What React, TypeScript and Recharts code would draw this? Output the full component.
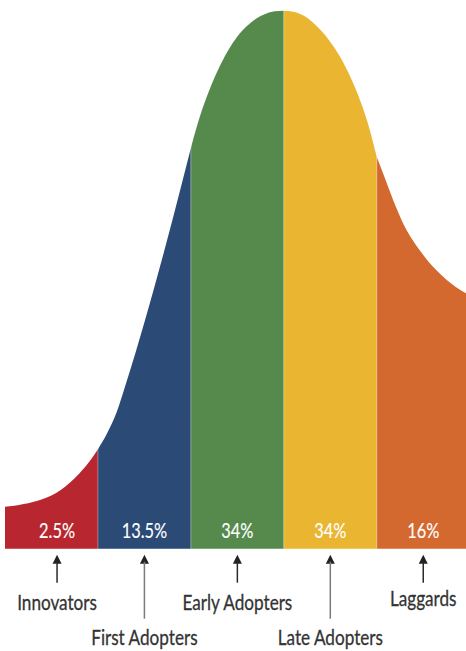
import { AreaChart, Area, XAxis, YAxis, ReferenceLine } from "recharts";

// position along the curve, in standard deviations from the mean
const curveX = [
  -3, -2.9, -2.8, -2.7, -2.6, -2.5, -2.4, -2.3, -2.2, -2.1,
  -2, -1.9, -1.8, -1.7, -1.6, -1.5, -1.4, -1.3, -1.2, -1.1,
  -1, -0.9, -0.8, -0.7, -0.6, -0.5, -0.4, -0.3, -0.2, -0.1,
  0, 0.1, 0.2, 0.3, 0.4, 0.5, 0.6, 0.7, 0.8, 0.9,
  1, 1.1, 1.2, 1.3, 1.4, 1.5, 1.6, 1.7, 1.8, 1.9, 1.96,
];
// curve height, % of the peak
const curveY = [
  7.8, 8.0, 8.3, 8.7, 9.2, 9.9, 10.9, 12.3, 14.0, 16.0,
  18.5, 21.5, 25.3, 30.6, 36.2, 42.1, 48.2, 54.5, 61.0, 67.7,
  74.5, 80.5, 85.3, 89.3, 92.6, 95.2, 97.1, 98.5, 99.4, 99.9,
  100, 99.8, 99.2, 98.0, 96.3, 94.2, 91.6, 88.3, 84.3, 79.3,
  72.8, 68.3, 63.8, 59.9, 57.0, 54.6, 52.5, 50.8, 49.3, 48.1, 47.5,
];

const segmentEdges = [-3, -2, -1, 0, 1, 1.96];
const segmentNames = ["Innovators", "First Adopters", "Early Adopters", "Late Adopters", "Laggards"];
const segmentShares = ["2.5%", "13.5%", "34%", "34%", "16%"];
const labelX = [-2.44, -1.5, -0.5, 0.5, 1.5];
const colors = ["#b8272f", "#2b4b76", "#568a4d", "#eab531", "#d4692f"];

const chartData = curveX.map((x, i) => {
  const row: Record<string, number | null> = { x };
  segmentNames.forEach((_, s) => {
    const inside = x >= segmentEdges[s] && x <= segmentEdges[s + 1];
    row["s" + s] = inside ? curveY[i] : null;
  });
  return row;
});

const font = "Lato, 'Open Sans', sans-serif";

function SegmentTick(props: any) {
  const { x, y, payload } = props;
  const i = labelX.indexOf(payload.value);
  if (i < 0) return null;
  const low = i % 2 === 1;
  const lineEnd = low ? 70 : 34;
  const textY = low ? 96.5 : i === 4 ? 57.5 : 61.5;
  return (
    <g>
      <g transform={`translate(${x},${y - 10.5}) scale(0.78,1)`}>
        <text x={0} y={0} textAnchor="middle" fill="#ffffff" stroke="#ffffff" strokeWidth={0.15} fontSize={21} fontFamily={font}>
          {segmentShares[i]}
        </text>
      </g>
      <polygon points={`${x},${y + 6} ${x - 4.5},${y + 15} ${x + 4.5},${y + 15}`} fill="#222222" />
      <line x1={x} x2={x} y1={y + 13} y2={y + lineEnd} stroke={low ? "#7a7a7a" : "#2a2a2a"} strokeWidth={1.5} />
      <g transform={`translate(${x},${y + textY}) scale(0.78,1)`}>
        <text x={0} y={0} textAnchor="middle" fill="#333333" stroke="#333333" strokeWidth={0.3} fontSize={22} fontFamily={font}>
          {segmentNames[i]}
        </text>
      </g>
    </g>
  );
}

export default function App() {
  return (
    <div style={{ position: "absolute", left: 0, top: 0, background: "#ffffff" }}>
      <AreaChart width={466} height={651} data={chartData} margin={{ top: 10.7, right: 0, left: 5, bottom: 0 }}>
        <XAxis
          dataKey="x"
          type="number"
          domain={[segmentEdges[0], segmentEdges[segmentEdges.length - 1]]}
          ticks={labelX}
          interval={0}
          height={102.3}
          axisLine={false}
          tickLine={false}
          tickSize={0}
          tickMargin={0}
          tick={<SegmentTick />}
        />
        <YAxis hide type="number" domain={[0, 100]} />
        {segmentNames.map((name, s) => (
          <Area
            key={name}
            type="monotone"
            dataKey={"s" + s}
            name={name}
            stroke="none"
            fill={colors[s]}
            fillOpacity={1}
            isAnimationActive={false}
            dot={false}
            activeDot={false}
          />
        ))}
        {segmentEdges.slice(1, -1).map((e) => (
          <ReferenceLine key={e} x={e} stroke="#ffffff" strokeOpacity={0.3} strokeWidth={1} />
        ))}
      </AreaChart>
    </div>
  );
}
